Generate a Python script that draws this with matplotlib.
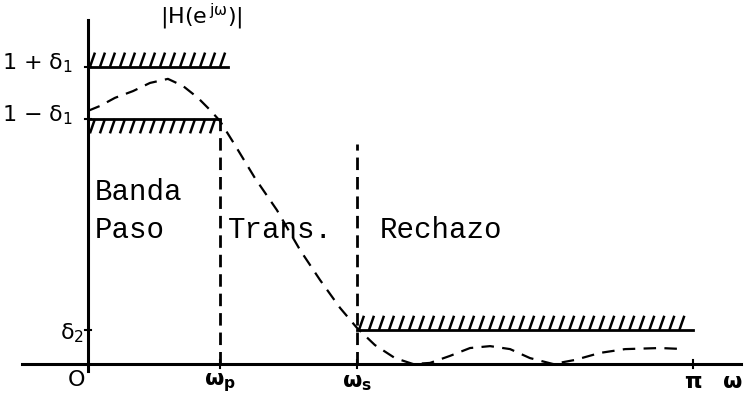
import matplotlib.pyplot as plt
import numpy as np
from matplotlib.collections import LineCollection

plt.rcParams['lines.scale_dashes'] = False
plt.rcParams['mathtext.default'] = 'regular'

# band edges (rad) and tolerances
w_p = 0.685
w_s = 1.397
w_end = np.pi
delta1 = 0.096
delta2 = 0.125

# dashed |H(e^jw)| response
curve_w = [0.000, 0.062, 0.140, 0.234, 0.322, 0.415, 0.493, 0.571, 0.634, 0.685,
           0.763, 0.867, 0.981, 1.101, 1.205, 1.309, 1.397, 1.490, 1.594, 1.688,
           1.776, 1.880, 1.984, 2.088, 2.192, 2.295, 2.415, 2.529, 2.659, 2.789,
           2.971, 3.100]
curve_h = [0.934, 0.952, 0.982, 1.007, 1.037, 1.052, 1.026, 0.982, 0.937, 0.897,
           0.808, 0.686, 0.568, 0.421, 0.310, 0.207, 0.133, 0.070, 0.022, 0.000,
           0.004, 0.030, 0.059, 0.066, 0.055, 0.022, 0.000, 0.015, 0.041, 0.055,
           0.059, 0.055]

fig = plt.figure(figsize=(7.45, 3.96), dpi=100)
ax = fig.add_axes([0, 0, 1, 1])
ax.set_xlim(-0.457, 3.412)
ax.set_ylim(-0.118, 1.343)
ax.axis('off')

# axes lines
ax.plot([-0.343, 3.39], [0, 0], color='black', lw=2.2)
ax.plot([0, 0], [-0.025, 1.27], color='black', lw=2.2)

# small tick marks
for xt in [w_p, w_s, w_end]:
    ax.plot([xt, xt], [-0.015, 0.015], color='black', lw=1.5)
for yt in [delta2, 1 - delta1, 1 + delta1]:
    ax.plot([-0.015, 0.015], [yt, yt], color='black', lw=1.5)

# tolerance bars with steep hatching
hatch_h = 0.053
hatch_step = 0.052
hatch_dx = 0.026
upper_end = 0.727
bars = [
    (0, upper_end, 1 + delta1, 1),
    (0, w_p, 1 - delta1, -1),
    (w_s, w_end, delta2, 1),
]
for x0, x1, yb, side in bars:
    ax.plot([x0, x1], [yb, yb], color='black', lw=2)
    segs = []
    for xs in np.arange(x0 + 0.01, x1 - hatch_dx + 0.001, hatch_step):
        if side > 0:
            segs.append([(xs, yb), (xs + hatch_dx, yb + hatch_h)])
        else:
            segs.append([(xs, yb - hatch_h), (xs + hatch_dx, yb)])
    ax.add_collection(LineCollection(segs, colors='black', linewidths=1.8))

# band-edge dashed verticals
ax.plot([w_p, w_p], [0, 1 - delta1], color='black', lw=2, dashes=(9, 5))
ax.plot([w_s, w_s], [0, 0.81], color='black', lw=2, dashes=(9, 5))

# response curve
ax.plot(curve_w, curve_h, color='black', lw=1.6, dashes=(9, 6))

# labels
sans = dict(color='black', fontsize=16)
ax.text(0.374, 1.28, r'|H($e^{\,j\omega}$)|', ha='left', va='center', **sans)
ax.text(-0.447, 1 + delta1 + 0.015, r'1 + $\delta_1$', ha='left', va='center', **sans)
ax.text(-0.447, 1 - delta1 + 0.015, r'1 $-$ $\delta_1$', ha='left', va='center', **sans)
ax.text(-0.145, delta2 - 0.01, r'$\delta_2$', ha='left', va='center', **sans)
ax.text(-0.062, -0.06, 'O', ha='center', va='center', **sans)
ax.text(w_p, -0.07, r'$\omega_p$', ha='center', va='center', fontweight='bold', **sans)
ax.text(w_s, -0.07, r'$\omega_s$', ha='center', va='center', fontweight='bold', **sans)
ax.text(w_end, -0.065, r'$\pi$', ha='center', va='center', fontweight='bold', **sans)
ax.text(3.29, -0.065, r'$\omega$', ha='left', va='center', fontweight='bold', **sans)

mono = dict(family='Liberation Mono', fontsize=21, color='black', va='baseline')
ax.text(0.036, 0.605, 'Banda', **mono)
ax.text(0.036, 0.465, 'Paso', **mono)
ax.text(0.727, 0.465, 'Trans.', **mono)
ax.text(1.516, 0.465, 'Rechazo', **mono)

fig.savefig('out.png', dpi=100)
